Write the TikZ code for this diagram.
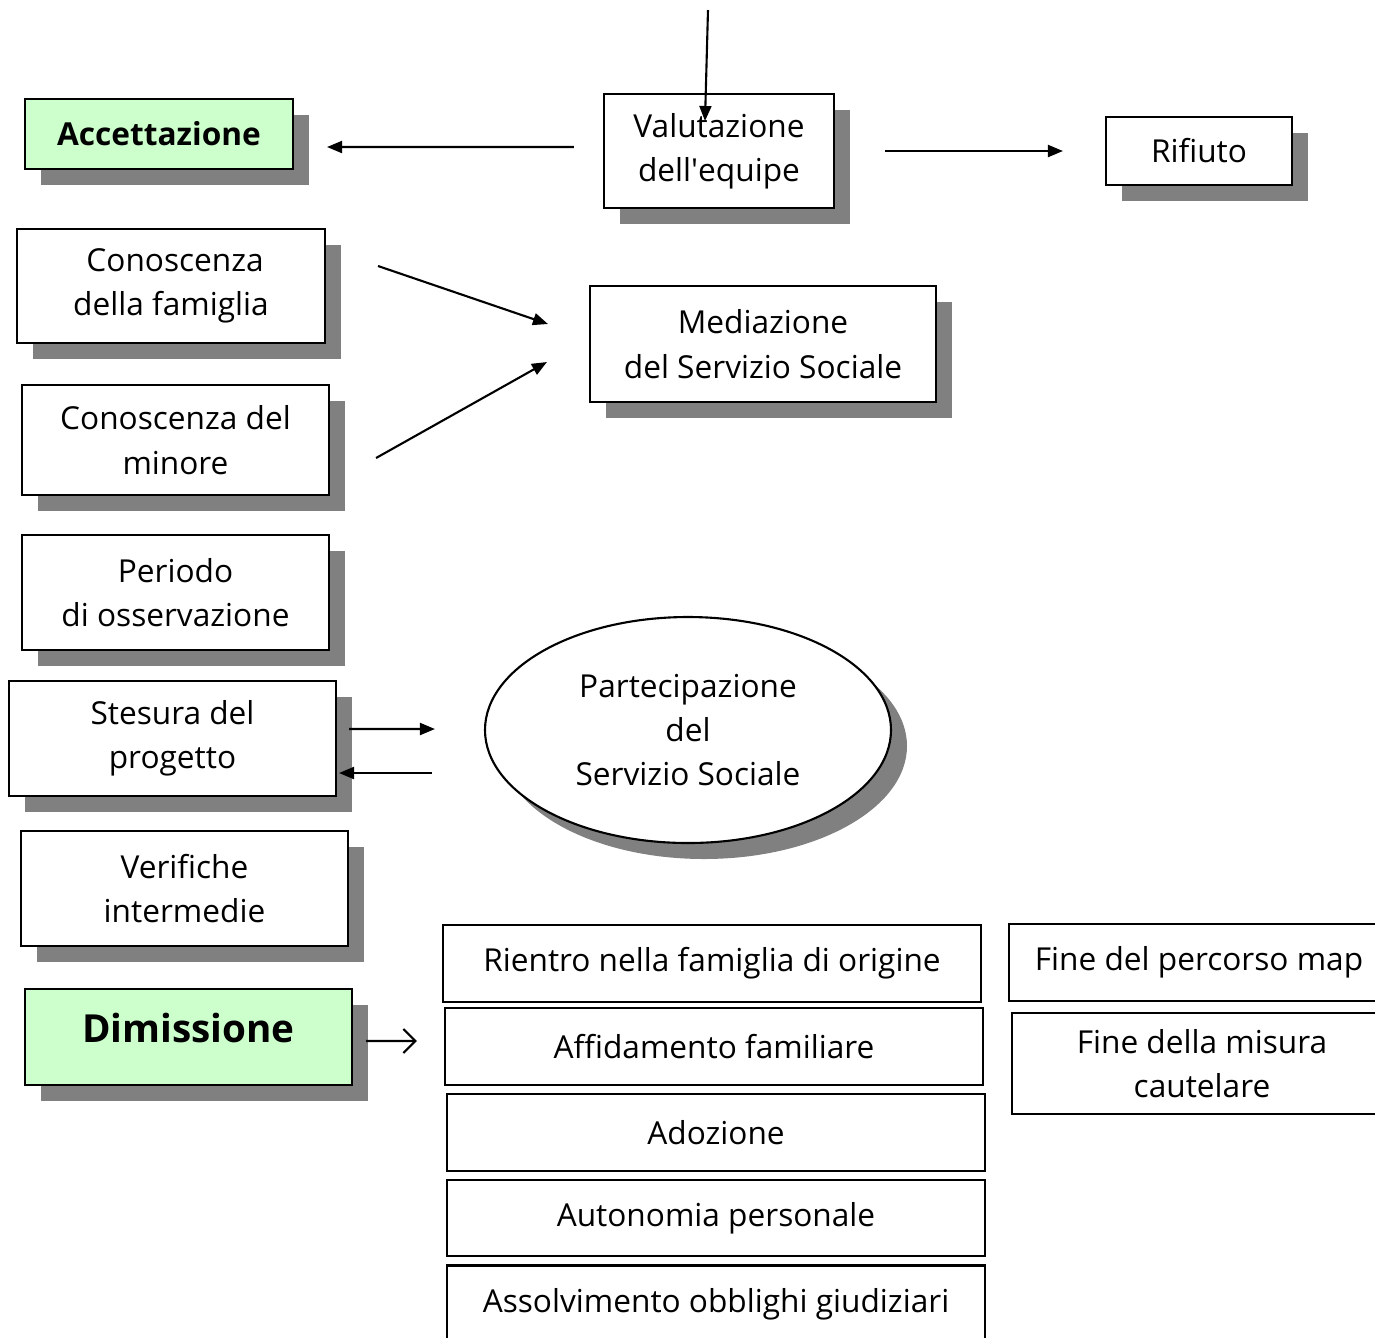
\documentclass[tikz,border=0pt]{standalone}
\usepackage{fontspec}
\setmainfont{Open Sans}
\usepackage{tikz}
\usetikzlibrary{shapes.geometric,shadows,arrows.meta}
\definecolor{verdino}{HTML}{CCFFCC}
\begin{document}
\begin{tikzpicture}[x=0.1mm,y=-0.1mm,
		line width=0.6pt,
		font=\fontsize{9}{12.6}\selectfont,
		ombra/.style={drop shadow={shadow xshift=1.6mm,shadow yshift=-1.6mm,fill=black!50,opacity=1}},
		blocco/.style={draw, fill=white, ombra, align=center, inner sep=0pt},
		fase/.style={blocco, fill=verdino, font=\fontsize{9}{12.6}\selectfont\bfseries},
		esito/.style={draw, fill=white, align=center, inner sep=0pt, minimum width=53.8mm, minimum height=7.7mm},
		freccia/.style={-{Triangle[length=1.5mm,width=1.2mm]}},
		apertura/.style={-{Straight Barb[length=1.2mm,width=2.4mm]}}]
		\useasboundingbox (0,0) rectangle (1375,1337);
			\node[fase, minimum width=26.8mm, minimum height=7mm] (accett) at (159,134) {Accettazione};
			\node[blocco, minimum width=23mm, minimum height=11.4mm] (valut) at (719,151) {Valutazione\\dell\textquotesingle equipe};
			\node[blocco, minimum width=18.6mm, minimum height=6.8mm] (rifiuto) at (1199,151) {Rifiuto};
			\node[blocco, minimum width=30.8mm, minimum height=11.4mm] (conofam) at (171,286) {\ Conoscenza\\della famiglia};
			\node[blocco, minimum width=34.6mm, minimum height=11.6mm] (media) at (763,344) {Mediazione\\del Servizio Sociale};
			\node[blocco, minimum width=30.7mm, minimum height=11mm] (conomin) at (175.5,440) {Conoscenza del\\minore};
			\node[blocco, minimum width=30.7mm, minimum height=11.5mm] (periodo) at (175.5,592.5) {Periodo\\di osservazione};
			\node[blocco, minimum width=32.7mm, minimum height=11.5mm] (stesura) at (172.5,738.5) {Stesura del\\progetto};
			\node[blocco, minimum width=32.7mm, minimum height=11.5mm] (verif) at (184.5,888.5) {Verifiche\\intermedie};
			\node[fase, minimum width=32.7mm, minimum height=9.6mm, text depth=1.8mm, font=\fontsize{11}{13}\selectfont\bfseries] (dimiss) at (188.5,1037) {Dimissione};
			\node[blocco, ellipse, minimum width=40.6mm, minimum height=22.6mm] (partec) at (688,730) {Partecipazione\\del\\Servizio Sociale};

			\node[esito] (rientro) at (712,963.5) {Rientro nella famiglia di origine};
			\node[esito] (affid) at (714,1046.5) {Affidamento familiare};
			\node[esito] (adoz) at (716,1132.5) {Adozione};
			\node[esito, minimum height=7.6mm] (auton) at (716,1218) {Autonomia personale};
			\node[esito] (assolv) at (716,1304) {Assolvimento obblighi giudiziari};
			\node[esito, minimum width=38mm] (finemap) at (1199,962.5) {Fine del percorso map};
			\node[esito, minimum width=38mm, minimum height=10.1mm] (finemis) at (1202,1063.5) {Fine della misura\\cautelare};

			\coordinate (ingresso) at (708,10);
			\draw[freccia] (ingresso) -- ([xshift=-1.4mm,yshift=-2.8mm]valut.north);
			\draw[freccia] ([xshift=-2.9mm,yshift=0.4mm]valut.west) -- ([xshift=3.3mm,yshift=-1.3mm]accett.east);
			\draw[freccia] ([xshift=5mm]valut.east) -- ([xshift=-4.2mm]rifiuto.west);
			\draw[freccia] ([xshift=5.2mm,yshift=2mm]conofam.east) -- ([xshift=-4.1mm,yshift=2mm]media.west);
			\draw[freccia] ([xshift=4.6mm,yshift=-1.8mm]conomin.east) -- ([xshift=-4.2mm,yshift=-1.8mm]media.west);
			\draw[freccia] ([xshift=1.2mm,yshift=0.95mm]stesura.east) -- ([xshift=-4.9mm,yshift=0.1mm]partec.west);
			\draw[freccia] ([xshift=-5.2mm,yshift=-4.3mm]partec.west) -- ([xshift=0.2mm,yshift=-3.45mm]stesura.east);
			\draw[apertura] ([xshift=1.3mm,yshift=-0.4mm]dimiss.east) -- ([xshift=-2.7mm,yshift=0.55mm]affid.west);
		\end{tikzpicture}
\end{document}
